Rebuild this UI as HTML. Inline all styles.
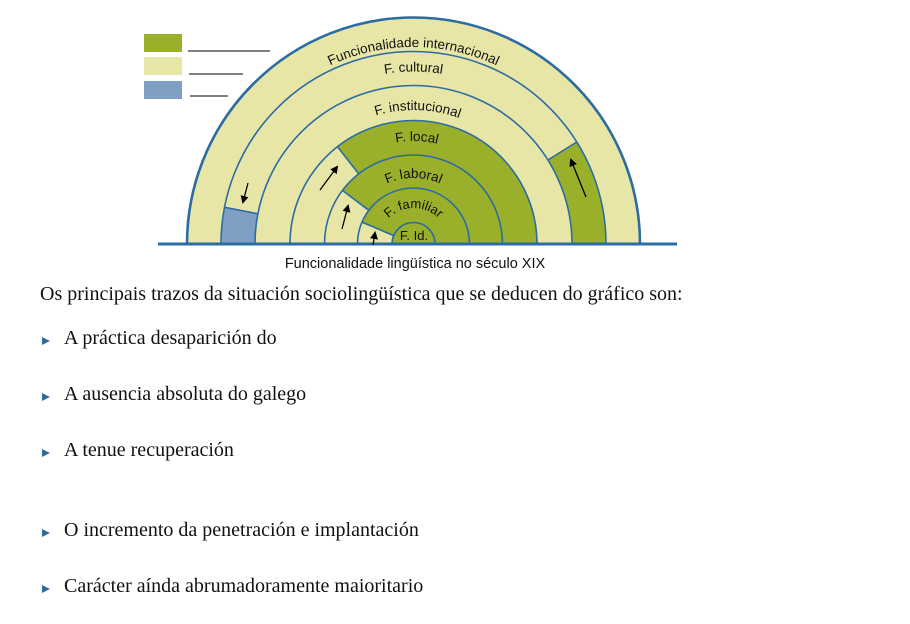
<!DOCTYPE html>
<html><head><meta charset="utf-8"><style>
html,body{margin:0;padding:0;background:#fff;width:910px;height:624px;overflow:hidden;position:relative}
.t{position:absolute;font-family:"Liberation Serif",serif;font-size:20px;color:#111;white-space:nowrap}
.b{position:absolute;width:0;height:0;border-top:4px solid transparent;border-bottom:4px solid transparent;border-left:8px solid #2f6aa3}
</style></head><body>
<svg width="910" height="624" style="position:absolute;left:0;top:0" xmlns="http://www.w3.org/2000/svg">
<defs>
<marker id="ah" markerWidth="8" markerHeight="8" refX="6" refY="4" orient="auto" markerUnits="userSpaceOnUse"><path d="M0,0 L8,4 L0,8 Z" fill="#000"/></marker>
<path id="p1" d="M216.5 244 A197 197 0 0 1 610.5 244"/>
<path id="p2" d="M240.9 244 A172.6 172.6 0 0 1 586.1 244"/>
<path id="p3" d="M279.5 244 A134 134 0 0 1 547.5 244"/>
<path id="p4" d="M310.5 244 A103 103 0 0 1 516.5 244"/>
<path id="p5" d="M347.5 244 A66 66 0 0 1 479.5 244"/>
<path id="p6" d="M377.5 244 A36 36 0 0 1 449.5 244"/>
</defs>
<rect x="144" y="34" width="38" height="18" fill="#9aaf2a"/>
<rect x="144" y="57" width="38" height="18" fill="#e8e6a6"/>
<rect x="144" y="81" width="38" height="18" fill="#7f9fc4"/>
<g stroke="#555" stroke-width="1.5"><line x1="188" y1="51" x2="270" y2="51"/><line x1="189" y1="74" x2="243" y2="74"/><line x1="190" y1="96" x2="228" y2="96"/></g>
<path d="M187 244 A226.5 226.5 0 0 1 640 244 Z" fill="#e8e6a6"/>
<path d="M413.5 244 L606 244 A192.5 192.5 0 0 0 576.7 142 Z" fill="#9aaf2a"/>
<path d="M413.5 244 L224.5 207.3 A192.5 192.5 0 0 0 221 244 Z" fill="#7f9fc4"/>
<path d="M255 244 A158.5 158.5 0 0 1 572 244 Z" fill="#e8e6a6"/>
<path d="M413.5 244 L537 244 A123.5 123.5 0 0 0 337.5 146.7 Z" fill="#9aaf2a"/>
<path d="M324.5 244 A89 89 0 0 1 502.5 244 Z" fill="#e8e6a6"/>
<path d="M413.5 244 L502.5 244 A89 89 0 0 0 342.4 190.4 Z" fill="#9aaf2a"/>
<path d="M357.5 244 A56 56 0 0 1 469.5 244 Z" fill="#e8e6a6"/>
<path d="M413.5 244 L469.5 244 A56 56 0 0 0 361.9 222.1 Z" fill="#9aaf2a"/>
<path d="M392 244 A21.5 21.5 0 0 1 435 244 Z" fill="#9aaf2a"/>
<g fill="none" stroke="#2b6ca3" stroke-width="1.6">
<path d="M187 244 A226.5 226.5 0 0 1 640 244" stroke-width="2.6"/>
<path d="M221 244 A192.5 192.5 0 0 1 606 244"/>
<path d="M255 244 A158.5 158.5 0 0 1 572 244"/>
<path d="M290 244 A123.5 123.5 0 0 1 537 244"/>
<path d="M324.5 244 A89 89 0 0 1 502.5 244"/>
<path d="M357.5 244 A56 56 0 0 1 469.5 244"/>
<path d="M392 244 A21.5 21.5 0 0 1 435 244"/>
<line x1="576.7" y1="142" x2="547.9" y2="160"/>
<line x1="224.5" y1="207.3" x2="257.9" y2="213.8"/>
<line x1="337.5" y1="146.7" x2="358.7" y2="173.9"/>
<line x1="342.4" y1="190.4" x2="368.8" y2="210.3"/>
<line x1="361.9" y1="222.1" x2="393.7" y2="235.6"/>
</g>
<line x1="158" y1="244" x2="677" y2="244" stroke="#2b6ca3" stroke-width="3"/>
<g stroke="#000" stroke-width="1.3" marker-end="url(#ah)">
<line x1="248" y1="183" x2="243" y2="202"/>
<line x1="320" y1="190" x2="337" y2="167"/>
<line x1="342" y1="229" x2="348" y2="206"/>
<line x1="373" y1="245" x2="375" y2="233"/>
<line x1="586" y1="197" x2="571" y2="160"/>
</g>
<g font-family="Liberation Sans, sans-serif" font-size="13.5" fill="#111" text-anchor="middle">
<text><textPath href="#p1" startOffset="50%">Funcionalidade internacional</textPath></text>
<text><textPath href="#p2" startOffset="50%">F. cultural</textPath></text>
<text><textPath href="#p3" startOffset="51%">F. institucional</textPath></text>
<text><textPath href="#p4" startOffset="51%">F. local</textPath></text>
<text><textPath href="#p5" startOffset="50%">F. laboral</textPath></text>
<text font-size="13"><textPath href="#p6" startOffset="50%">F. familiar</textPath></text>
<text x="414" y="240" font-size="13">F. Id.</text>
<text x="415" y="268" font-size="14.5">Funcionalidade lingüística no século XIX</text>
</g>
</svg>
<div class="t" style="left:40px;top:283px">Os principais trazos da situación sociolingüística que se deducen do gráfico son:</div>
<div class="b" style="left:42px;top:337px"></div><div class="t" style="left:64px;top:327px">A práctica desaparición do</div>
<div class="b" style="left:42px;top:393px"></div><div class="t" style="left:64px;top:383px">A ausencia absoluta do galego</div>
<div class="b" style="left:42px;top:449px"></div><div class="t" style="left:64px;top:439px">A tenue recuperación</div>
<div class="b" style="left:42px;top:529px"></div><div class="t" style="left:64px;top:519px">O incremento da penetración e implantación</div>
<div class="b" style="left:42px;top:585px"></div><div class="t" style="left:64px;top:575px">Carácter aínda abrumadoramente maioritario</div>
</body></html>
